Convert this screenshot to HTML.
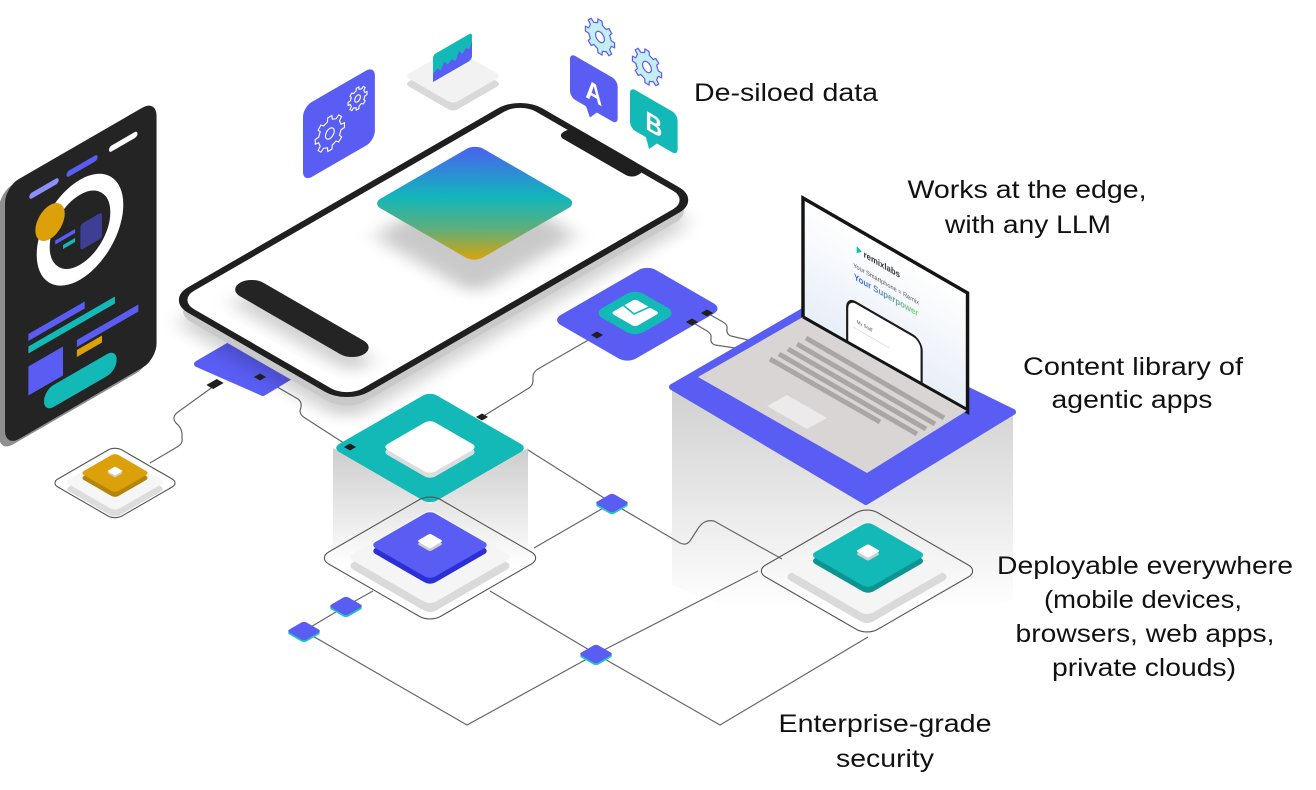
<!DOCTYPE html>
<html><head><meta charset="utf-8"><style>
html,body{margin:0;padding:0;background:#fff;}
svg{display:block;}
text{font-family:"Liberation Sans",Arial,sans-serif;}
</style></head><body>
<svg width="1316" height="790" viewBox="0 0 1316 790" xmlns="http://www.w3.org/2000/svg">
<defs>
  <linearGradient id="sq" gradientUnits="userSpaceOnUse" x1="331" y1="19" x2="212" y2="137">
    <stop offset="0" stop-color="#4f5cf3"/>
    <stop offset="0.45" stop-color="#12b6bb"/>
    <stop offset="0.72" stop-color="#5fae7a"/>
    <stop offset="1" stop-color="#e6a300"/>
  </linearGradient>
  <linearGradient id="pil1" gradientUnits="userSpaceOnUse" x1="0" y1="448" x2="0" y2="565">
    <stop offset="0" stop-color="#cdcdcd"/><stop offset="1" stop-color="#ffffff"/>
  </linearGradient>
  <linearGradient id="pil2" gradientUnits="userSpaceOnUse" x1="0" y1="388" x2="0" y2="610">
    <stop offset="0" stop-color="#d0d0d0"/><stop offset="1" stop-color="#ffffff"/>
  </linearGradient>
  <linearGradient id="scr" x1="0" y1="0" x2="0" y2="1">
    <stop offset="0" stop-color="#ffffff"/><stop offset="1" stop-color="#e8eef8"/>
  </linearGradient>
  <linearGradient id="sup" x1="0" y1="0" x2="1" y2="0">
    <stop offset="0" stop-color="#3b5cf5"/><stop offset="1" stop-color="#7dd96a"/>
  </linearGradient>
  <filter id="bl" x="-50%" y="-50%" width="200%" height="200%"><feGaussianBlur stdDeviation="9"/></filter>
  <filter id="bl2" x="-50%" y="-50%" width="200%" height="200%"><feGaussianBlur stdDeviation="3"/></filter>
  <clipPath id="scrClip"><rect x="0" y="0" width="190" height="119"/></clipPath>
</defs>

<!-- laptop pillar -->
<polygon points="672,387 866,502 1013,412 1013,600 866,660 672,585" fill="url(#pil2)"/>
<!-- teal pillar -->
<polygon points="333,448 430,504 528,448 528,565 430,610 333,565" fill="url(#pil1)"/>

<!-- connector lines -->
<g fill="none" stroke="#666" stroke-width="1.2" stroke-linejoin="round">
  <path d="M150,463 L177,447 Q183,444 182,438 L182,433 Q181,427 176,423 Q171,417 178,412 L214,386"/>
  <path d="M260,377 L298,399 Q302,402 301,407 L300,411 Q300,415 305,418 L350,447"/>
  <path d="M597,335 L538,369 Q533,372 533,377 L533,381 Q533,385 529,388 L482,417"/>
  <path d="M692,322 L707,331 Q712,334 711,338 Q710,343 715,345 L742,349"/>
  <path d="M707,313 L723,322 Q728,325 727,329 Q726,334 731,336 L752,341"/>
  <path d="M528,450 L612,503 L680,543 Q686,546 690,541 L699,527 Q705,519 714,521 L782,559"/>
  <path d="M612,503 L534,548"/>
  <path d="M490,591 L596,654 L758,571"/>
  <path d="M596,654 L720,725 L868,637"/>
  <path d="M596,654 L467,725 L304,631 L346,606 L373,591"/>
</g>

<!-- teal block top -->
<g transform="matrix(0.866,-0.5,0.866,0.5,430,448)">
  <rect x="-56.5" y="-56.5" width="113" height="113" rx="8" fill="#13b9b6"/>
</g>
<g transform="matrix(0.866,-0.5,0.866,0.5,430,452)"><rect x="-27.5" y="-27.5" width="55" height="55" rx="6" fill="#dcdcdc"/></g>
<g transform="matrix(0.866,-0.5,0.866,0.5,430,447)"><rect x="-27.5" y="-27.5" width="55" height="55" rx="6" fill="#ffffff"/></g>

<!-- yellow node -->
<rect transform="matrix(0.866,-0.5,0.866,0.5,115,483)" x="-37" y="-37" width="74" height="74" rx="8" fill="none" stroke="#555" stroke-width="1.1" vector-effect="non-scaling-stroke"/>
<rect transform="matrix(0.866,-0.5,0.866,0.5,115,489)" x="-29" y="-29" width="58" height="58" rx="5" fill="#dcdcdc"/>
<rect transform="matrix(0.866,-0.5,0.866,0.5,115,482)" x="-29" y="-29" width="58" height="58" rx="5" fill="#f6f6f6"/>
<rect transform="matrix(0.866,-0.5,0.866,0.5,115,478)" x="-20" y="-20" width="40" height="40" rx="4" fill="#b58508"/>
<rect transform="matrix(0.866,-0.5,0.866,0.5,115,473)" x="-20" y="-20" width="40" height="40" rx="4" fill="#dca00a"/>
<rect transform="matrix(0.866,-0.5,0.866,0.5,115,473)" x="-4.5" y="-4.5" width="9" height="9" rx="1" fill="#cfcfcf"/>
<rect transform="matrix(0.866,-0.5,0.866,0.5,115,471)" x="-4.5" y="-4.5" width="9" height="9" rx="1" fill="#ffffff"/>

<!-- purple node -->
<rect transform="matrix(0.866,-0.5,0.866,0.5,430,558)" x="-64.5" y="-64.5" width="129" height="129" rx="12" fill="none" stroke="#555" stroke-width="1.1" vector-effect="non-scaling-stroke"/>
<rect transform="matrix(0.866,-0.5,0.866,0.5,430,566)" x="-48" y="-48" width="96" height="96" rx="7" fill="#dadada"/>
<rect transform="matrix(0.866,-0.5,0.866,0.5,430,557)" x="-48" y="-48" width="96" height="96" rx="7" fill="#f5f5f5"/>
<rect transform="matrix(0.866,-0.5,0.866,0.5,430,551)" x="-34.5" y="-34.5" width="69" height="69" rx="6" fill="#2b2fd6"/>
<rect transform="matrix(0.866,-0.5,0.866,0.5,430,545)" x="-34.5" y="-34.5" width="69" height="69" rx="6" fill="#5a5df3"/>
<rect transform="matrix(0.866,-0.5,0.866,0.5,430,544)" x="-7.5" y="-7.5" width="15" height="15" rx="2" fill="#cdcdcd"/>
<rect transform="matrix(0.866,-0.5,0.866,0.5,430,541)" x="-7.5" y="-7.5" width="15" height="15" rx="2" fill="#ffffff"/>

<!-- teal node -->
<rect transform="matrix(0.866,-0.5,0.866,0.5,867,571)" x="-64.5" y="-64.5" width="129" height="129" rx="12" fill="none" stroke="#555" stroke-width="1.1" vector-effect="non-scaling-stroke"/>
<rect transform="matrix(0.866,-0.5,0.866,0.5,867,577)" x="-48" y="-48" width="96" height="96" rx="7" fill="#dadada"/>
<rect transform="matrix(0.866,-0.5,0.866,0.5,867,568)" x="-48" y="-48" width="96" height="96" rx="7" fill="#f5f5f5"/>
<rect transform="matrix(0.866,-0.5,0.866,0.5,868,561)" x="-33.5" y="-33.5" width="67" height="67" rx="6" fill="#0b9490"/>
<rect transform="matrix(0.866,-0.5,0.866,0.5,868,555)" x="-33.5" y="-33.5" width="67" height="67" rx="6" fill="#13b9b6"/>
<rect transform="matrix(0.866,-0.5,0.866,0.5,868,554)" x="-7" y="-7" width="14" height="14" rx="2" fill="#cdcdcd"/>
<rect transform="matrix(0.866,-0.5,0.866,0.5,868,551)" x="-7" y="-7" width="14" height="14" rx="2" fill="#ffffff"/>

<!-- junctions -->
<g>
  <rect transform="matrix(0.866,-0.5,0.866,0.5,612,505)" x="-10" y="-10" width="20" height="20" rx="3" fill="#22c7c2"/>
  <rect transform="matrix(0.866,-0.5,0.866,0.5,612,503)" x="-10" y="-10" width="20" height="20" rx="3" fill="#5a5df3"/>
  <rect transform="matrix(0.866,-0.5,0.866,0.5,346,608)" x="-10" y="-10" width="20" height="20" rx="3" fill="#22c7c2"/>
  <rect transform="matrix(0.866,-0.5,0.866,0.5,346,606)" x="-10" y="-10" width="20" height="20" rx="3" fill="#5a5df3"/>
  <rect transform="matrix(0.866,-0.5,0.866,0.5,304,633)" x="-10" y="-10" width="20" height="20" rx="3" fill="#22c7c2"/>
  <rect transform="matrix(0.866,-0.5,0.866,0.5,304,631)" x="-10" y="-10" width="20" height="20" rx="3" fill="#5a5df3"/>
  <rect transform="matrix(0.866,-0.5,0.866,0.5,596,656)" x="-10" y="-10" width="20" height="20" rx="3" fill="#22c7c2"/>
  <rect transform="matrix(0.866,-0.5,0.866,0.5,596,654)" x="-10" y="-10" width="20" height="20" rx="3" fill="#5a5df3"/>
</g>

<!-- purple pad under phone -->
<polygon points="197,364 240,339 298,372 263,393" fill="#5a5df3" stroke="#5a5df3" stroke-width="6" stroke-linejoin="round"/>

<!-- big phone -->
<g transform="matrix(0.866,-0.5,0.866,0.5,172,300)">
  <rect x="-22" y="22" width="402" height="202" rx="22" fill="#000" opacity="0.18" filter="url(#bl)"/>
  <rect x="-11" y="11" width="402" height="202" rx="22" fill="#c9c9c9"/>
  <rect x="0" y="0" width="402" height="202" rx="22" fill="#ffffff" stroke="#1f1f1f" stroke-width="7"/>
  <rect x="387" y="58" width="16" height="86" rx="7" fill="#1f1f1f"/>
  <rect x="180" y="52" width="119" height="118" rx="12" fill="#666" opacity="0.35" filter="url(#bl)"/>
  <rect x="212" y="19" width="119" height="118" rx="10" fill="url(#sq)"/>
  <rect x="30" y="36" width="27" height="143" rx="13.5" fill="#777" opacity="0.35" filter="url(#bl)"/>
  <rect x="43" y="22" width="27" height="143" rx="13.5" fill="#232423"/>
</g>

<!-- plug & dots -->
<rect transform="matrix(0.866,-0.5,0.866,0.5,215,384)" x="-6" y="-4" width="12" height="8" fill="#1f1f1f"/>
<rect transform="matrix(0.866,-0.5,0.866,0.5,260,377)" x="-3.5" y="-3.5" width="7" height="7" fill="#1f1f1f"/>

<!-- envelope pad -->
<g transform="matrix(0.866,-0.5,0.866,0.5,552,320)">
  <rect x="0" y="0" width="110" height="87" rx="10" fill="#5a5df3"/>
  <rect x="31" y="17" width="48" height="48" rx="10" fill="#13b9b6"/>
  <rect x="41" y="27" width="28" height="28" rx="3" fill="#ffffff"/>
</g>
<polyline points="623,305 634,314 652,306" fill="none" stroke="#13b9b6" stroke-width="1.6"/>
<rect transform="matrix(0.866,-0.5,0.866,0.5,597,335)" x="-3.5" y="-3.5" width="7" height="7" fill="#1f1f1f"/>
<rect transform="matrix(0.866,-0.5,0.866,0.5,692,322)" x="-3.5" y="-3.5" width="7" height="7" fill="#1f1f1f"/>
<rect transform="matrix(0.866,-0.5,0.866,0.5,707,313)" x="-3.5" y="-3.5" width="7" height="7" fill="#1f1f1f"/>
<rect transform="matrix(0.866,-0.5,0.866,0.5,350,447)" x="-3.5" y="-3.5" width="7" height="7" fill="#1f1f1f"/>
<rect transform="matrix(0.866,-0.5,0.866,0.5,482,417)" x="-3.5" y="-3.5" width="7" height="7" fill="#1f1f1f"/>

<!-- laptop -->
<polygon points="672,387 805,310 1013,412 866,502" fill="#5a5df3" stroke="#5a5df3" stroke-width="6" stroke-linejoin="round"/>
<g transform="matrix(0.866,0.5,0,1,803,198)">
  <rect x="0" y="0" width="190" height="119" fill="url(#scr)" stroke="#141414" stroke-width="4"/>
  <g clip-path="url(#scrClip)">
    <rect x="51" y="74" width="86" height="70" rx="10" fill="#ffffff" stroke="#1c1c1c" stroke-width="2.5"/>
    <text x="62" y="94" font-size="5" fill="#555">My Stuff</text>
    <line x1="58" y1="100" x2="100" y2="100" stroke="#ddd" stroke-width="1"/>
  </g>
  <polygon points="62,17 68,20 62,24" fill="#13b9b6"/>
  <text x="70" y="24" font-size="9" font-weight="bold" fill="#333">remixlabs</text>
  <text x="96" y="40" font-size="6.5" fill="#555" text-anchor="middle">Your Smartphone = Remix</text>
  <text x="96" y="52" font-size="9" font-weight="bold" fill="url(#sup)" text-anchor="middle">Your Superpower</text>
</g>
<polygon points="698,377 803,317 968,410 867,473" fill="#d9d5d4"/>
<g stroke="#aaa6a5" stroke-width="5">
  <line x1="806" y1="338" x2="944" y2="418"/>
  <line x1="797" y1="344" x2="935" y2="424"/>
  <line x1="788" y1="349" x2="926" y2="429"/>
  <line x1="779" y1="354" x2="917" y2="434"/>
  <line x1="770" y1="359" x2="880" y2="422"/>
</g>
<polygon points="767,406 787,395 827,418 807,429" fill="#eceaea"/>
<line x1="803" y1="317" x2="968" y2="410" stroke="#141414" stroke-width="3"/>

<!-- dark phone -->
<g transform="matrix(0.866,-0.5,0,1,5,190)">
  <rect x="-7" y="-1" width="175" height="260" rx="16" fill="#8f8f8f"/>
  <rect x="0" y="-3" width="175" height="260" rx="16" fill="#232423"/>
  <line x1="123" y1="20" x2="150" y2="20" stroke="#ffffff" stroke-width="6" stroke-linecap="round"/>
  <line x1="31" y1="21" x2="59" y2="21" stroke="#8c8ff7" stroke-width="6" stroke-linecap="round"/>
  <line x1="74" y1="20.5" x2="104" y2="20.5" stroke="#5a5df3" stroke-width="6" stroke-linecap="round"/>
  <circle cx="86.6" cy="83" r="42.5" fill="none" stroke="#ffffff" stroke-width="15"/>
  <rect x="87" y="78" width="25" height="26" rx="3" fill="#3d3e94"/>
  <circle cx="52" cy="58" r="17" fill="#dca00a"/>
  <line x1="58" y1="81.5" x2="81" y2="81.5" stroke="#5a5df3" stroke-width="4"/>
  <line x1="67" y1="90.5" x2="81" y2="90.5" stroke="#13b9b6" stroke-width="4"/>
  <line x1="27" y1="161" x2="92" y2="161" stroke="#5a5df3" stroke-width="7"/>
  <line x1="27" y1="173.5" x2="127" y2="173.5" stroke="#13b9b6" stroke-width="7"/>
  <line x1="83" y1="195" x2="154" y2="195" stroke="#5a5df3" stroke-width="7"/>
  <line x1="83" y1="205" x2="112" y2="205" stroke="#dca00a" stroke-width="7"/>
  <rect x="27" y="190" width="40" height="29" fill="#5a5df3"/>
  <line x1="56" y1="234" x2="118" y2="234" stroke="#13b9b6" stroke-width="22" stroke-linecap="round"/>
</g>

<!-- gear tile -->
<g transform="matrix(0.866,-0.5,0,1,303,107)">
  <rect x="0" y="0" width="83" height="75" rx="10" fill="#5a5df3"/>
  <g transform="translate(31,42) scale(1.7)" fill="none" stroke="#ffffff" stroke-width="1.1" vector-effect="non-scaling-stroke">
    <polygon vector-effect="non-scaling-stroke" points="7.63,-1.62 9.9,-1.39 9.9,1.39 7.63,1.62 6.54,4.25 7.99,6.02 6.02,7.99 4.25,6.54 1.62,7.63 1.39,9.9 -1.39,9.9 -1.62,7.63 -4.25,6.54 -6.02,7.99 -7.99,6.02 -6.54,4.25 -7.63,1.62 -9.9,1.39 -9.9,-1.39 -7.63,-1.62 -6.54,-4.25 -7.99,-6.02 -6.02,-7.99 -4.25,-6.54 -1.62,-7.63 -1.39,-9.9 1.39,-9.9 1.62,-7.63 4.25,-6.54 6.02,-7.99 7.99,-6.02 6.54,-4.25"/>
    <circle vector-effect="non-scaling-stroke" r="3"/>
  </g>
  <g transform="translate(63,23) scale(1.1)" fill="none" stroke="#ffffff" stroke-width="1.1">
    <polygon vector-effect="non-scaling-stroke" points="7.63,-1.62 9.9,-1.39 9.9,1.39 7.63,1.62 6.54,4.25 7.99,6.02 6.02,7.99 4.25,6.54 1.62,7.63 1.39,9.9 -1.39,9.9 -1.62,7.63 -4.25,6.54 -6.02,7.99 -7.99,6.02 -6.54,4.25 -7.63,1.62 -9.9,1.39 -9.9,-1.39 -7.63,-1.62 -6.54,-4.25 -7.99,-6.02 -6.02,-7.99 -4.25,-6.54 -1.62,-7.63 -1.39,-9.9 1.39,-9.9 1.62,-7.63 4.25,-6.54 6.02,-7.99 7.99,-6.02 6.54,-4.25"/>
    <circle vector-effect="non-scaling-stroke" r="3"/>
  </g>
</g>

<!-- data block -->
<rect transform="matrix(0.866,-0.5,0.866,0.5,453,84)" x="-28" y="-28" width="56" height="56" rx="5" fill="#d9d9d9"/>
<rect transform="matrix(0.866,-0.5,0.866,0.5,453,76)" x="-28" y="-28" width="56" height="56" rx="5" fill="#f2f2f2"/>
<g transform="matrix(0.866,-0.5,0,1,433,55)">
  <rect x="0" y="0" width="45" height="27" rx="3" fill="#13b9b6"/>
  <polygon points="0,27 0,19 5,16 9,20 13,13 17,18 22,15 26,19 30,11 34,16 38,12 42,15 45,9 45,24 42,27" fill="#5a5df3"/>
</g>

<!-- A / B bubbles -->
<g transform="matrix(0.866,0.5,0,1,600,37)">
  <g transform="scale(1.7)" fill="#c5eef0" stroke="#5a5df3">
    <polygon vector-effect="non-scaling-stroke" stroke-width="1.2" points="7.63,-1.62 9.9,-1.39 9.9,1.39 7.63,1.62 6.54,4.25 7.99,6.02 6.02,7.99 4.25,6.54 1.62,7.63 1.39,9.9 -1.39,9.9 -1.62,7.63 -4.25,6.54 -6.02,7.99 -7.99,6.02 -6.54,4.25 -7.63,1.62 -9.9,1.39 -9.9,-1.39 -7.63,-1.62 -6.54,-4.25 -7.99,-6.02 -6.02,-7.99 -4.25,-6.54 -1.62,-7.63 -1.39,-9.9 1.39,-9.9 1.62,-7.63 4.25,-6.54 6.02,-7.99 7.99,-6.02 6.54,-4.25"/>
    <circle vector-effect="non-scaling-stroke" stroke-width="1.2" r="3" fill="#fff"/>
  </g>
</g>
<g transform="matrix(0.866,0.5,0,1,647,67)">
  <g transform="scale(1.7)" fill="#c5eef0" stroke="#5a5df3">
    <polygon vector-effect="non-scaling-stroke" stroke-width="1.2" points="7.63,-1.62 9.9,-1.39 9.9,1.39 7.63,1.62 6.54,4.25 7.99,6.02 6.02,7.99 4.25,6.54 1.62,7.63 1.39,9.9 -1.39,9.9 -1.62,7.63 -4.25,6.54 -6.02,7.99 -7.99,6.02 -6.54,4.25 -7.63,1.62 -9.9,1.39 -9.9,-1.39 -7.63,-1.62 -6.54,-4.25 -7.99,-6.02 -6.02,-7.99 -4.25,-6.54 -1.62,-7.63 -1.39,-9.9 1.39,-9.9 1.62,-7.63 4.25,-6.54 6.02,-7.99 7.99,-6.02 6.54,-4.25"/>
    <circle vector-effect="non-scaling-stroke" stroke-width="1.2" r="3" fill="#fff"/>
  </g>
</g>
<g transform="matrix(0.866,0.5,0,1,570,53)">
  <rect x="0" y="0" width="55" height="44" rx="6" fill="#5a5df3"/>
  <polygon points="18,43 32,43 23,53" fill="#5a5df3"/>
  <text x="27.5" y="35" font-size="27" font-weight="bold" fill="#ffffff" text-anchor="middle">A</text>
</g>
<g transform="matrix(0.866,0.5,0,1,630,87)">
  <rect x="0" y="0" width="55" height="41" rx="6" fill="#13b9b6"/>
  <polygon points="18,40 32,40 22,51" fill="#13b9b6"/>
  <text x="27.5" y="33" font-size="27" font-weight="bold" fill="#ffffff" text-anchor="middle">B</text>
</g>

<!-- labels -->
<g font-size="25" fill="#111" text-anchor="middle">
  <text x="786" y="101" textLength="184" lengthAdjust="spacingAndGlyphs">De-siloed data</text>
  <text x="1027" y="198" textLength="239" lengthAdjust="spacingAndGlyphs">Works at the edge,</text>
  <text x="1028" y="233" textLength="166" lengthAdjust="spacingAndGlyphs">with any LLM</text>
  <text x="1133" y="375" textLength="220" lengthAdjust="spacingAndGlyphs">Content library of</text>
  <text x="1132" y="408" textLength="161" lengthAdjust="spacingAndGlyphs">agentic apps</text>
  <text x="1145" y="574" textLength="296" lengthAdjust="spacingAndGlyphs">Deployable everywhere</text>
  <text x="1143" y="608" textLength="198" lengthAdjust="spacingAndGlyphs">(mobile devices,</text>
  <text x="1145" y="642" textLength="259" lengthAdjust="spacingAndGlyphs">browsers, web apps,</text>
  <text x="1144" y="676" textLength="184" lengthAdjust="spacingAndGlyphs">private clouds)</text>
  <text x="885" y="732" textLength="213" lengthAdjust="spacingAndGlyphs">Enterprise-grade</text>
  <text x="885" y="767" textLength="98" lengthAdjust="spacingAndGlyphs">security</text>
</g>
</svg>
</body></html>
